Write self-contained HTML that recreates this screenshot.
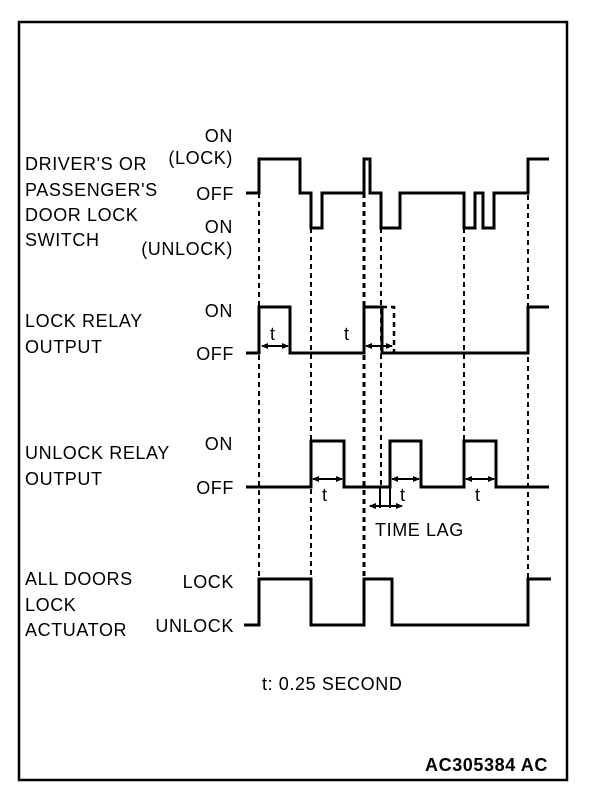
<!DOCTYPE html>
<html><head><style>
html,body{margin:0;padding:0;background:#fff;}
svg{display:block;}
text{font-family:"Liberation Sans",Arial,sans-serif;font-size:18px;letter-spacing:0.6px;fill:#000;}
</style></head><body>
<svg width="608" height="804" viewBox="0 0 608 804" xmlns="http://www.w3.org/2000/svg">
<rect x="19" y="22" width="548" height="758" fill="none" stroke="#000" stroke-width="2.5"/>
<g stroke="#000" stroke-width="2" stroke-dasharray="5,4" fill="none">
<line x1="259" y1="193" x2="259" y2="580"/>
<line x1="311" y1="228" x2="311" y2="580"/>
<line x1="364" y1="193" x2="364" y2="580" stroke-width="3"/>
<line x1="381" y1="228" x2="381" y2="487"/>
<line x1="464" y1="228" x2="464" y2="487"/>
<line x1="528" y1="159" x2="528" y2="580"/>
<polyline points="382,307 394,307 394,353" stroke-width="2.5"/>
</g>
<g stroke="#000" stroke-width="3" fill="none">
<polyline points="246,193 259,193 259,159 300,159 300,193 311,193 311,228 322,228 322,193 364,193 364,159 370,159 370,193 381,193 381,228 400,228 400,193 464,193 464,228 475,228 475,193 483,193 483,228 494,228 494,193 528,193 528,159 549,159"/>
<polyline points="246,353 259,353 259,307 290,307 290,353 364,353 364,307 382,307 382,353 528,353 528,307 549,307"/>
<polyline points="246,487 311,487 311,441 344,441 344,487 390,487 390,441 421,441 421,487 464,487 464,441 496,441 496,487 549,487"/>
<polyline points="244,625 259,625 259,579 311,579 311,625 364,625 364,579 392,579 392,625 528,625 528,579 551,579"/>
</g>
<g stroke="#000" stroke-width="2" fill="#000">
<line x1="262" y1="346" x2="288" y2="346"/>
<line x1="366" y1="346" x2="392" y2="346"/>
<line x1="313" y1="479" x2="342" y2="479"/>
<line x1="392" y1="479" x2="419" y2="479"/>
<line x1="466" y1="479" x2="494" y2="479"/>
<line x1="370" y1="506" x2="402" y2="506"/>
<line x1="380" y1="487" x2="380" y2="508"/>
<line x1="390" y1="487" x2="390" y2="508"/>
</g>
<g fill="#000">
<polygon points="261,346 268,343 268,349"/><polygon points="289,346 282,343 282,349"/>
<polygon points="365,346 372,343 372,349"/><polygon points="393,346 386,343 386,349"/>
<polygon points="312,479 319,476 319,482"/><polygon points="343,479 336,476 336,482"/>
<polygon points="391,479 398,476 398,482"/><polygon points="420,479 413,476 413,482"/>
<polygon points="465,479 472,476 472,482"/><polygon points="495,479 488,476 488,482"/>
<polygon points="369,506 376,503 376,509"/><polygon points="403,506 396,503 396,509"/>
</g>
<text x="270" y="340">t</text>
<text x="344" y="340">t</text>
<text x="322" y="501">t</text>
<text x="400" y="501">t</text>
<text x="475" y="501">t</text>
<text x="375" y="536">TIME LAG</text>
<text x="25" y="170">DRIVER'S OR</text>
<text x="25" y="196">PASSENGER'S</text>
<text x="25" y="221">DOOR LOCK</text>
<text x="25" y="246">SWITCH</text>
<g text-anchor="end">
<text x="233" y="142">ON</text>
<text x="233" y="164">(LOCK)</text>
<text x="234" y="200">OFF</text>
<text x="233" y="233">ON</text>
<text x="233" y="255">(UNLOCK)</text>
<text x="233" y="317">ON</text>
<text x="234" y="360">OFF</text>
<text x="233" y="450">ON</text>
<text x="234" y="494">OFF</text>
<text x="234" y="588">LOCK</text>
<text x="234" y="632">UNLOCK</text>
</g>
<text x="25" y="327">LOCK RELAY</text>
<text x="25" y="353">OUTPUT</text>
<text x="25" y="459">UNLOCK RELAY</text>
<text x="25" y="485">OUTPUT</text>
<text x="25" y="585">ALL DOORS</text>
<text x="25" y="611">LOCK</text>
<text x="25" y="636">ACTUATOR</text>
<text x="262" y="690" letter-spacing="1">t: 0.25 SECOND</text>
<text x="548" y="771" text-anchor="end" font-weight="bold" letter-spacing="0">AC305384 AC</text>
</svg>
</body></html>
